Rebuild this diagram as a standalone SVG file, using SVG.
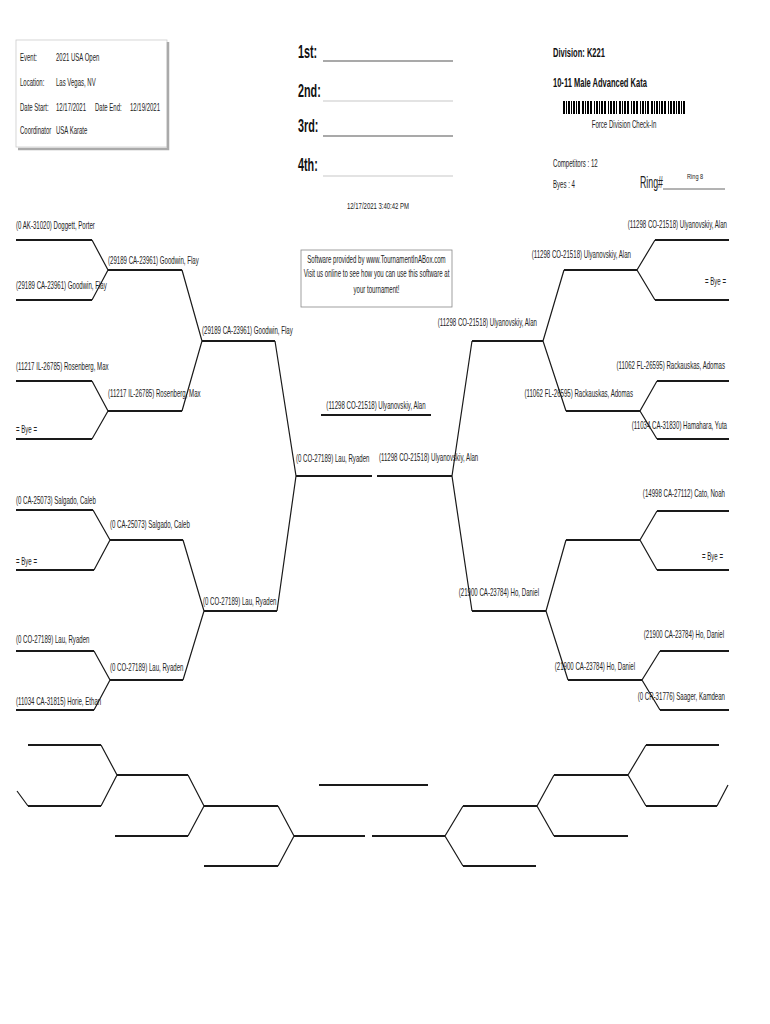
<svg xmlns="http://www.w3.org/2000/svg" width="770" height="1024" viewBox="0 0 770 1024">
<style>
.t{font-family:"Liberation Sans",Arial,sans-serif;font-size:10px;fill:#222}
.b{font-family:"Liberation Sans",Arial,sans-serif;font-weight:bold;fill:#111}
.e{text-anchor:end}
.m{text-anchor:middle}
.h{stroke:#1a1a1a;stroke-width:2;fill:none}
.d{stroke:#1a1a1a;stroke-width:1.2;fill:none}
</style>
<rect width="770" height="1024" fill="#fff"/>
<g id="info">
<rect x="16" y="40" width="151" height="107" fill="#fff" stroke="#ccc" stroke-width="0.8"/>
<path d="M168 42V149H18" stroke="#aaa" stroke-width="2.5" fill="none"/>
<text class="t" transform="translate(20 61) scale(.6 1)">Event:</text>
<text class="t" transform="translate(56 61) scale(.6 1)">2021 USA Open</text>
<text class="t" transform="translate(20 86) scale(.6 1)">Location:</text>
<text class="t" transform="translate(56 86) scale(.6 1)">Las Vegas, NV</text>
<text class="t" transform="translate(20 111) scale(.6 1)">Date Start:</text>
<text class="t" transform="translate(56 111) scale(.6 1)">12/17/2021</text>
<text class="t" transform="translate(95 111) scale(.6 1)">Date End:</text>
<text class="t" transform="translate(130 111) scale(.6 1)">12/19/2021</text>
<text class="t" transform="translate(20 134) scale(.6 1)">Coordinator</text>
<text class="t" transform="translate(56 134) scale(.6 1)">USA Karate</text>
</g>
<g id="places">
<text class="b" style="font-size:18px" transform="translate(298 58) scale(.6 1)">1st:</text>
<line x1="323" y1="61" x2="453" y2="61" stroke="#555" stroke-width="1.2"/>
<text class="b" style="font-size:18px" transform="translate(298 97) scale(.6 1)">2nd:</text>
<line x1="323" y1="101" x2="453" y2="101" stroke="#c8c8c8" stroke-width="1.2"/>
<text class="b" style="font-size:18px" transform="translate(298 132) scale(.6 1)">3rd:</text>
<line x1="323" y1="136" x2="453" y2="136" stroke="#555" stroke-width="1.2"/>
<text class="b" style="font-size:18px" transform="translate(298 171) scale(.6 1)">4th:</text>
<line x1="323" y1="176" x2="453" y2="176" stroke="#c8c8c8" stroke-width="1.2"/>
<text class="t m" style="font-size:9.5px" transform="translate(378 209) scale(.63 1)">12/17/2021 3:40:42 PM</text>
</g>
<g id="division">
<text class="b" style="font-size:13px" transform="translate(553 57) scale(.58 1)">Division: K221</text>
<text class="b" style="font-size:13px" transform="translate(553 87) scale(.58 1)">10-11 Male Advanced Kata</text>
<path stroke="#000" stroke-width="1" d="M563.5 101v13M564.5 101v13M566.5 101v13M568.5 101v13M569.5 101v13M571.5 101v13M573.5 101v13M574.5 101v13M576.5 101v13M578.5 101v13M579.5 101v13M582.5 101v13M583.5 101v13M585.5 101v13M587.5 101v13M588.5 101v13M590.5 101v13M591.5 101v13M594.5 101v13M596.5 101v13M597.5 101v13M599.5 101v13M601.5 101v13M602.5 101v13M604.5 101v13M605.5 101v13M608.5 101v13M610.5 101v13M611.5 101v13M613.5 101v13M614.5 101v13M616.5 101v13M619.5 101v13M620.5 101v13M622.5 101v13M624.5 101v13M625.5 101v13M627.5 101v13M628.5 101v13M631.5 101v13M633.5 101v13M634.5 101v13M636.5 101v13M637.5 101v13M640.5 101v13M642.5 101v13M643.5 101v13M645.5 101v13M647.5 101v13M648.5 101v13M651.5 101v13M652.5 101v13M654.5 101v13M656.5 101v13M657.5 101v13M659.5 101v13M661.5 101v13M662.5 101v13M664.5 101v13M665.5 101v13M668.5 101v13M670.5 101v13M671.5 101v13M673.5 101v13M674.5 101v13M676.5 101v13M678.5 101v13M679.5 101v13M681.5 101v13M683.5 101v13M684.5 101v13"/>
<text class="t m" transform="translate(624 128) scale(.61 1)">Force Division Check-In</text>
<text class="t" transform="translate(553 167) scale(.61 1)">Competitors : 12</text>
<text class="t" transform="translate(553 188) scale(.61 1)">Byes : 4</text>
<text class="t" style="font-size:16px" transform="translate(640 188) scale(.55 1)">Ring#</text>
<line x1="663" y1="189" x2="725" y2="189" stroke="#666" stroke-width="1"/>
<text class="t" style="font-size:8px" transform="translate(687 179) scale(.7 1)">Ring 8</text>
</g>
<g id="software">
<rect x="301" y="250" width="151" height="57" fill="#fff" stroke="#888" stroke-width="0.8"/>
<text class="t m" transform="translate(376.5 263) scale(.61 1)">Software provided by www.TournamentInABox.com</text>
<text class="t m" transform="translate(376.5 277) scale(.61 1)">Visit us online to see how you can use this software at</text>
<text class="t m" transform="translate(376.5 293) scale(.61 1)">your tournament!</text>
</g>
<g id="connectors">
<path class="h" d="M16 240H92M16 300H92M108 270H182M16 381H92M16 439H92M108 411H182M202 341H275M16 510H93M16 570H94M110 540H183M16 651H94M16 710H94M110 680H183M204 611H277M296 476H372M321 415H431M377 476H452M472 341H543M564 270H637M655 240H729M655 300H729M566 411H640M657 381H729M657 439H729M472 611H546M566 540H640M657 511H729M657 570H729M568 680H642M660 651H729M660 710H729"/>
<path class="d" d="M92 240L108 270L92 300M182 270L202 341L182 411M92 381L108 411L92 439M275 341L296 476L277 611M93 510L110 540L94 570M183 540L204 611L183 680M94 651L110 680L94 710M472 341L452 476L472 611M564 270L543 341L566 411M655 240L637 270L655 300M657 381L640 411L657 439M566 540L546 611L568 680M657 511L640 540L657 570M660 651L642 680L660 710"/>
<path class="h" d="M28 745H101M28 806H101M117 775H188M204 806H278M115 836H188M294 836H365M204 866H278M319 785H428M372 836H445M463 866H536M463 806H537M554 836H628M554 775H628M646 745H719M646 806H717"/>
<path class="d" d="M101 745L117 775L101 806M17 791L28 806M188 775L204 806L188 836M278 806L294 836L278 866M463 806L445 836L463 866M554 775L537 806L554 836M646 745L628 775L646 806M717 806L728 785"/>
</g>
<g id="left-bracket">
<text class="t" transform="translate(16 229) scale(.61 1)">(0 AK-31020) Doggett, Porter</text>
<text class="t" transform="translate(108 264) scale(.61 1)">(29189 CA-23961) Goodwin, Flay</text>
<text class="t" transform="translate(16 289) scale(.61 1)">(29189 CA-23961) Goodwin, Flay</text>
<text class="t" transform="translate(202 334) scale(.61 1)">(29189 CA-23961) Goodwin, Flay</text>
<text class="t" transform="translate(16 370) scale(.61 1)">(11217 IL-26785) Rosenberg, Max</text>
<text class="t" transform="translate(108 397) scale(.61 1)">(11217 IL-26785) Rosenberg, Max</text>
<text class="t" transform="translate(16 433) scale(.61 1)">= Bye =</text>
<text class="t" transform="translate(296 462) scale(.61 1)">(0 CO-27189) Lau, Ryaden</text>
<text class="t" transform="translate(16 504) scale(.61 1)">(0 CA-25073) Salgado, Caleb</text>
<text class="t" transform="translate(110 528) scale(.61 1)">(0 CA-25073) Salgado, Caleb</text>
<text class="t" transform="translate(16 565) scale(.61 1)">= Bye =</text>
<text class="t" transform="translate(203 605) scale(.61 1)">(0 CO-27189) Lau, Ryaden</text>
<text class="t" transform="translate(16 643) scale(.61 1)">(0 CO-27189) Lau, Ryaden</text>
<text class="t" transform="translate(110 671) scale(.61 1)">(0 CO-27189) Lau, Ryaden</text>
<text class="t" transform="translate(16 705) scale(.61 1)">(11034 CA-31815) Horie, Ethan</text>
</g>
<g id="final">
<text class="t m" transform="translate(376 409) scale(.61 1)">(11298 CO-21518) Ulyanovskiy, Alan</text>
</g>
<g id="right-bracket">
<text class="t e" transform="translate(727 228) scale(.61 1)">(11298 CO-21518) Ulyanovskiy, Alan</text>
<text class="t e" transform="translate(631 258) scale(.61 1)">(11298 CO-21518) Ulyanovskiy, Alan</text>
<text class="t e" transform="translate(726 285) scale(.61 1)">= Bye =</text>
<text class="t e" transform="translate(537 326) scale(.61 1)">(11298 CO-21518) Ulyanovskiy, Alan</text>
<text class="t e" transform="translate(725 369) scale(.61 1)">(11062 FL-26595) Rackauskas, Adomas</text>
<text class="t e" transform="translate(633 397) scale(.61 1)">(11062 FL-26595) Rackauskas, Adomas</text>
<text class="t e" transform="translate(727 429) scale(.61 1)">(11034 CA-31830) Hamahara, Yuta</text>
<text class="t" transform="translate(379 461) scale(.61 1)">(11298 CO-21518) Ulyanovskiy, Alan</text>
<text class="t e" transform="translate(725 497) scale(.61 1)">(14998 CA-27112) Cato, Noah</text>
<text class="t e" transform="translate(723 560) scale(.61 1)">= Bye =</text>
<text class="t e" transform="translate(539 596) scale(.61 1)">(21900 CA-23784) Ho, Daniel</text>
<text class="t e" transform="translate(724 638) scale(.61 1)">(21900 CA-23784) Ho, Daniel</text>
<text class="t e" transform="translate(635 670) scale(.61 1)">(21900 CA-23784) Ho, Daniel</text>
<text class="t e" transform="translate(725 700) scale(.61 1)">(0 CR-31776) Saager, Kamdean</text>
</g>
</svg>
